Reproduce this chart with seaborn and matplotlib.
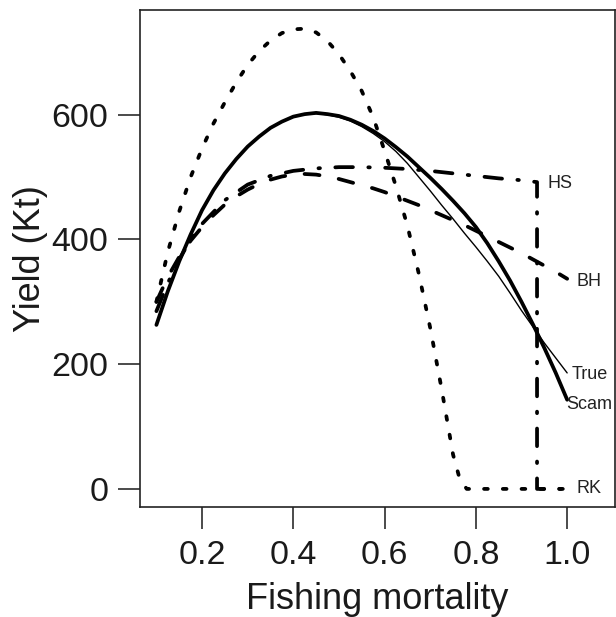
import matplotlib
matplotlib.use("Agg")
import matplotlib.pyplot as plt
import seaborn as sns

# Yield curves (F step 0.025)
f_grid = [0.100, 0.125, 0.150, 0.175, 0.200, 0.225, 0.250, 0.275, 0.300, 0.325,
          0.350, 0.375, 0.400, 0.425, 0.450, 0.475, 0.500, 0.525, 0.550, 0.575,
          0.600, 0.625, 0.650, 0.675, 0.700, 0.725, 0.750, 0.775, 0.800, 0.825,
          0.850, 0.875, 0.900, 0.925, 0.950, 0.975, 1.000]
yield_scam = [263, 317, 365, 408, 447, 479, 506, 529, 549, 565,
              579, 589, 597, 601, 603, 601, 598, 592, 584, 574,
              562, 548, 533, 516, 499, 481, 462, 442, 420, 394,
              365, 334, 300, 264, 226, 186, 143]
yield_true = [263, 317, 365, 408, 447, 479, 506, 529, 549, 565,
              579, 589, 597, 601, 602, 600, 596, 590, 581, 570,
              557, 541, 522, 500, 478, 455, 433, 410, 388, 365,
              341, 314, 286, 260, 234, 210, 186]
yield_bh = [300, 340, 372, 398, 420, 439, 456, 469, 480, 489,
            496, 501, 504, 505, 504, 501, 497, 492, 487, 482,
            476, 469, 462, 455, 447, 439, 431, 423, 414, 405,
            396, 387, 378, 368, 358, 348, 337]

f_hs = [0.10, 0.125, 0.15, 0.175, 0.20, 0.25, 0.30, 0.35, 0.40, 0.45, 0.50,
        0.55, 0.60, 0.65, 0.70, 0.75, 0.80, 0.85, 0.90, 0.934, 0.934, 1.00]
yield_hs = [285, 330, 368, 400, 425, 463, 488, 502, 510, 514, 516,
            516, 515, 513, 510, 506, 502, 498, 495, 492, 0, 0]

f_rk = [0.100, 0.125, 0.150, 0.175, 0.200, 0.225, 0.250, 0.275, 0.300, 0.325,
        0.350, 0.375, 0.400, 0.425, 0.450, 0.475, 0.500, 0.525, 0.550, 0.575,
        0.600, 0.625, 0.650, 0.675, 0.700, 0.725, 0.750, 0.765, 0.780, 1.000]
yield_rk = [300, 380, 445, 500, 546, 586, 620, 652, 680, 702,
            719, 731, 737, 738, 732, 718, 697, 670, 638, 596,
            542, 485, 422, 345, 258, 160, 55, 15, 0, 0]

# curve labels at the right end
label_names = ["HS", "BH", "True", "Scam", "RK"]
label_x = [0.956, 1.021, 1.010, 0.998, 1.021]
label_y = [490, 333, 183, 136, 0]

x_ticks = [0.2, 0.4, 0.6, 0.8, 1.0]
x_ticklabels = ["0.2", "0.4", "0.6", "0.8", "1.0"]
y_ticks = [0, 200, 400, 600]

sns.set_style("ticks")
plt.rcParams["font.family"] = ["Liberation Sans", "DejaVu Sans"]

fig = plt.figure(figsize=(6.16, 6.17), dpi=100)
ax = fig.add_axes([0.2265, 0.1783, 0.772, 0.8055])

comunes = dict(ax=ax, color="black", estimator=None, sort=False,
               legend=False, dash_capstyle="round", solid_capstyle="round",
               solid_joinstyle="round")

sns.lineplot(x=f_rk, y=yield_rk, linewidth=2.7,
             linestyle=(0, (1, 4)), **comunes)
sns.lineplot(x=f_hs, y=yield_hs, linewidth=2.7,
             linestyle=(0, (4.7, 4.1, 0.4, 4.1)), **comunes)
sns.lineplot(x=f_grid, y=yield_bh, linewidth=2.7,
             linestyle=(0, (4.0, 5.2)), **comunes)
sns.lineplot(x=f_grid, y=yield_true, linewidth=1.0, **comunes)
sns.lineplot(x=f_grid, y=yield_scam, linewidth=2.7, **comunes)

for nombre, lx, ly in zip(label_names, label_x, label_y):
    ax.text(lx, ly, nombre, fontsize=13, ha="left", va="center", color="#222222")

ax.set_xlim(0.063, 1.105)
ax.set_ylim(-29, 768)
ax.set_xticks(x_ticks)
ax.set_xticklabels(x_ticklabels)
ax.set_yticks(y_ticks)
ax.tick_params(axis="both", direction="out", length=15.5, width=1.1,
               labelsize=24.5, colors="#1a1a1a")
ax.tick_params(axis="x", pad=8)
ax.tick_params(axis="y", pad=7)

for lado in ["left", "right", "top", "bottom"]:
    ax.spines[lado].set_visible(True)
    ax.spines[lado].set_linewidth(1.2)
    ax.spines[lado].set_color("#222222")

ax.set_xlabel("Fishing mortality", fontsize=26, labelpad=8.5, color="#1a1a1a")
ax.set_ylabel("Yield (Kt)", fontsize=26, labelpad=2, color="#1a1a1a")

fig.savefig("out.png", dpi=100)
plt.close()
